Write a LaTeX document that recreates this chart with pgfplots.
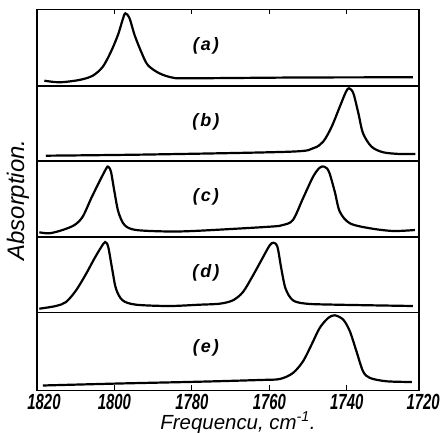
\documentclass[border=0pt]{standalone}
\usepackage{pgfplots}
\pgfplotsset{compat=1.18}
\usepackage{fontspec}
\setmainfont{Liberation Sans}
\newfontfamily\tickfont[FakeStretch=0.68]{Liberation Sans}
\newcommand{\tickfmt}{\tickfont\bfseries\itshape\fontsize{22}{24}\selectfont}
\newcommand{\panelfmt}{\bfseries\itshape\fontsize{18}{20}\selectfont}
\pgfplotsset{
  panel/.style={
    scale only axis, width=382bp, anchor=south west,
    xmin=1721.35, xmax=1820, x dir=reverse,
    ytick=\empty, xtick=\empty,
    axis line style={line width=1.6bp},
  },
  curve/.style={black, line width=2.2bp, smooth, tension=0.5, mark=none},
}
\tikzset{panellabel/.style={font=\panelfmt}}
\newcommand{\plab}[1]{(\hspace{2pt}#1\hspace{2pt})}
\begin{document}
\begin{tikzpicture}
\useasboundingbox (-37bp,-42.5bp) rectangle (403bp,390.5bp);
% panel (e)
\begin{axis}[panel, at={(0bp,0bp)}, height=78bp, ymin=-0.5, ymax=77.5,
  clip=false,
  xtick={1820,1800,1780,1760,1740}, xticklabels={\hspace*{14bp}1820,1800,1780,1760,1740},
  xtick pos=lower, tick align=inside, major tick length=5bp,
  tick style={line width=1.2bp, black},
  xticklabel style={font=\tickfmt, anchor=north, inner sep=0pt, yshift=-3bp}]
\addplot[curve] coordinates {(1818.5,4.5)(1798.7,6.5)(1778.0,8.3)(1762.5,10)(1757.3,11)(1753.9,17)(1751.3,28.7)(1749.1,45.3)(1747.0,62)(1744.8,72)(1743.1,74.7)(1740.9,70.3)(1739.2,58.7)(1737.5,38.7)(1735.8,18.7)(1734.0,12)(1729.7,8.7)(1723.2,8)};
\node[panellabel] at (rel axis cs:0.442,0.55) {\plab{e}};
\node[font=\tickfmt, anchor=north, inner sep=0pt, yshift=-3bp, xshift=-1bp] at (axis cs:1720,-0.5) {1720};
\end{axis}
% panel (d)
\begin{axis}[panel, at={(0bp,78bp)}, height=75.5bp, ymin=0, ymax=75.5]
\addplot[curve] coordinates {(1819.4,3.8)(1815.1,6.5)(1812.5,10.5)(1809.9,22.2)(1807.3,38.8)(1805.2,53.8)(1803.4,65.5)(1802.4,70.5)(1801.6,65.5)(1800.6,43.8)(1799.6,23.8)(1797.9,12.2)(1794.4,7.8)(1785.8,6.5)(1778.0,7.8)(1772.8,8.8)(1769.4,12.2)(1766.8,20.5)(1764.2,37.2)(1761.6,55.5)(1759.9,67.2)(1758.9,69.8)(1757.9,65.5)(1756.9,43.8)(1755.8,23.8)(1753.9,12.2)(1750.4,8.8)(1742.6,7.8)(1722.9,6.5)};
\node[panellabel] at (rel axis cs:0.442,0.53) {\plab{d}};
\end{axis}
% panel (c)
\begin{axis}[panel, at={(0bp,153.5bp)}, height=76bp, ymin=0, ymax=76]
\addplot[curve] coordinates {(1819.4,4.7)(1816.8,3.7)(1813.4,7)(1810.3,12)(1808.2,20.3)(1806.0,38.7)(1803.9,55.3)(1802.1,68.7)(1801.6,70.3)(1800.9,65.3)(1800.0,45.3)(1799.0,25.3)(1797.4,12)(1794.4,7)(1785.8,5.5)(1778.0,6.3)(1759.9,10.3)(1756.5,12)(1753.9,17)(1751.3,38.7)(1748.7,60.3)(1747.0,69.3)(1745.8,70.3)(1744.6,65.3)(1743.1,45.3)(1741.8,25.3)(1739.2,13.7)(1734.0,8.7)(1728.0,6)(1722.4,7)};
\node[panellabel] at (rel axis cs:0.442,0.53) {\plab{c}};
\end{axis}
% panel (b)
\begin{axis}[panel, at={(0bp,229.5bp)}, height=75bp, ymin=0, ymax=75]
\addplot[curve] coordinates {(1817.7,5.3)(1790.9,6.5)(1754.7,9.3)(1748.7,12.7)(1746.1,19.3)(1743.9,34.3)(1741.8,54.3)(1740.2,69.3)(1739.4,72.7)(1738.3,67.7)(1737.0,47.7)(1735.8,27.7)(1733.6,14.3)(1730.6,8.7)(1726.3,7)(1722.3,7)};
\node[panellabel] at (rel axis cs:0.442,0.52) {\plab{b}};
\end{axis}
% panel (a)
\begin{axis}[panel, at={(0bp,304.5bp)}, height=76.5bp, ymin=1, ymax=77.5,
  xtick={1800,1780,1760,1740}, xticklabels={}, xtick pos=upper,
  tick align=inside, major tick length=5bp, tick style={line width=1.2bp, black}]
\addplot[curve] coordinates {(1818.1,6.3)(1814.2,4.7)(1809.1,7)(1805.6,11.3)(1803.0,20.3)(1800.9,35.3)(1799.1,52)(1797.9,67)(1797.2,73.7)(1796.1,68.7)(1794.8,52)(1793.1,35.3)(1791.4,22)(1788.4,13.7)(1784.9,9.3)(1780.6,8.7)(1752.1,9.5)(1722.9,9.7)};
\node[panellabel] at (rel axis cs:0.442,0.52) {\plab{a}};
\end{axis}
\node[rotate=90, font=\itshape\fontsize{24}{26}\selectfont, inner sep=0pt] at (-19bp,190.5bp) {Absorption.};
\node[anchor=base, font=\itshape\fontsize{20.5}{22}\selectfont, inner sep=0pt] at (201bp,-38.5bp) {Frequencu, cm\smash{\textsuperscript{-1}}.};
\end{tikzpicture}
\end{document}
